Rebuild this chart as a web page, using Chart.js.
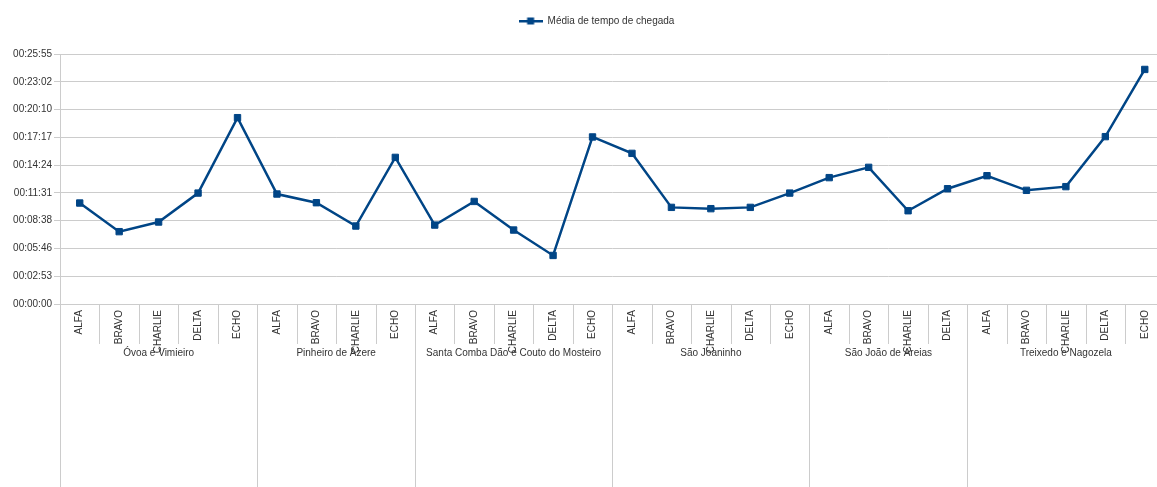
<!DOCTYPE html>
<html lang="pt">
<head>
  <meta charset="UTF-8">
  <title>Média de tempo de chegada</title>
  <script src="https://cdn.jsdelivr.net/npm/chart.js"></script>
  <style>
    html, body { margin: 0; padding: 0; background: #fff; overflow: hidden; }
    #wrap { width: 1170px; height: 487px; }
  </style>
</head>
<body>
<div id="wrap"><canvas id="chart" width="1170" height="487"></canvas></div>

<script>
  // data (seconds)
  const groupNames = ['Óvoa e Vimieiro', 'Pinheiro de Ázere', 'Santa Comba Dão e Couto do Mosteiro',
                      'São Joaninho', 'São João de Areias', 'Treixedo e Nagozela'];
  const groupSizes = [5, 4, 5, 5, 4, 5];
  const teams = ['ALFA', 'BRAVO', 'CHARLIE', 'DELTA', 'ECHO',
                 'ALFA', 'BRAVO', 'CHARLIE', 'ECHO',
                 'ALFA', 'BRAVO', 'CHARLIE', 'DELTA', 'ECHO',
                 'ALFA', 'BRAVO', 'CHARLIE', 'DELTA', 'ECHO',
                 'ALFA', 'BRAVO', 'CHARLIE', 'DELTA',
                 'ALFA', 'BRAVO', 'CHARLIE', 'DELTA', 'ECHO'];
  const arrivalSeconds = [628, 450, 510, 690, 1159,
                          684, 630, 485, 912,
                          491, 638, 460, 302, 1039,
                          937, 601, 593, 601, 690,
                          786, 850, 580, 717,
                          798, 707, 730, 1041, 1459];
  const yTickLabels = ['00:00:00', '00:02:53', '00:05:46', '00:08:38', '00:11:31',
                       '00:14:24', '00:17:17', '00:20:10', '00:23:02', '00:25:55'];

  const toSec = s => s.split(':').reduce((a, b) => a * 60 + parseInt(b, 10), 0);
  const yTickValues = yTickLabels.map(toSec);

  const lineColor = '#004586';
  const gridColor = '#cccccc';
  const textColor = '#333';
  const fontFamily = '"Liberation Sans", Arial, sans-serif';

  // legend symbol: line with a square in the middle
  const legendIcon = document.createElement('canvas');
  legendIcon.width = 24; legendIcon.height = 8;
  (function () {
    const c = legendIcon.getContext('2d');
    c.fillStyle = lineColor;
    c.fillRect(0, 3, 24, 2.5);
    c.fillRect(8.5, 0.5, 7, 7);
  })();

  // separators and group names under the x axis
  const groupAxis = {
    id: 'groupAxis',
    afterDraw(chart) {
      const ctx = chart.ctx, x = chart.scales.x, area = chart.chartArea;
      const w = x.getPixelForValue(1) - x.getPixelForValue(0);
      const left = x.getPixelForValue(0) - w / 2;
      const bottom = chart.height;
      const boundaries = [0];
      groupSizes.reduce((acc, n) => { boundaries.push(acc + n); return acc + n; }, 0);

      ctx.save();
      ctx.strokeStyle = gridColor;
      ctx.lineWidth = 1;
      for (let i = 0; i <= teams.length; i++) {
        const px = Math.round(left + i * w) + 0.5;
        const full = boundaries.includes(i);
        ctx.beginPath();
        ctx.moveTo(px, area.bottom);
        ctx.lineTo(px, full ? bottom : area.bottom + 40);
        ctx.stroke();
      }
      ctx.fillStyle = textColor;
      ctx.font = '10px ' + fontFamily;
      ctx.textAlign = 'center';
      ctx.textBaseline = 'middle';
      groupNames.forEach((name, g) => {
        const cx = left + (boundaries[g] + boundaries[g + 1]) / 2 * w;
        ctx.fillText(name, cx, area.bottom + 49);
      });
      ctx.restore();
    }
  };

  // fixed room for the legend, and nudge it a bit right
  const legendSpace = {
    id: 'legendSpace',
    beforeInit(chart) {
      const fit = chart.legend.fit;
      chart.legend.fit = function () { fit.call(this); this.height = 48; };
    },
    afterLayout(chart) {
      chart.legend.left += 12;
      chart.legend.right += 12;
    }
  };

  new Chart(document.getElementById('chart'), {
    type: 'line',
    data: {
      labels: teams,
      datasets: [{
        label: 'Média de tempo de chegada',
        data: arrivalSeconds,
        borderColor: lineColor,
        backgroundColor: lineColor,
        borderWidth: 2.5,
        tension: 0,
        fill: false,
        pointStyle: 'rect',
        pointRadius: 4.5,
        pointBorderWidth: 1,
        pointBorderColor: lineColor,
        pointBackgroundColor: lineColor
      }]
    },
    options: {
      responsive: false,
      animation: false,
      layout: { padding: { left: 0, right: 1, top: 6, bottom: 0 } },
      plugins: {
        tooltip: { enabled: false },
        legend: {
          position: 'top',
          labels: {
            color: textColor,
            font: { family: fontFamily, size: 10 },
            usePointStyle: true,
            pointStyleWidth: 24,
            padding: 10,
            generateLabels: chart => chart.data.datasets.map((ds, i) => ({
              text: ds.label, pointStyle: legendIcon, fontColor: textColor,
              strokeStyle: lineColor, fillStyle: lineColor, lineWidth: 0, datasetIndex: i
            }))
          }
        }
      },
      scales: {
        x: {
          offset: true,
          grid: { display: false },
          border: { display: false },
          ticks: {
            color: textColor,
            font: { family: fontFamily, size: 10 },
            minRotation: 90, maxRotation: 90,
            autoSkip: false,
            padding: -2
          },
          afterFit(scale) { scale.height = 183; }
        },
        y: {
          min: 0,
          max: yTickValues[yTickValues.length - 1],
          afterBuildTicks(scale) { scale.ticks = yTickValues.map(v => ({ value: v })); },
          grid: { color: gridColor, tickLength: 6, tickColor: gridColor },
          border: { color: gridColor },
          ticks: {
            color: textColor,
            font: { family: fontFamily, size: 10 },
            padding: 2,
            callback: (v, i) => yTickLabels[i]
          },
          afterFit(scale) { scale.width = 60; }
        }
      }
    },
    plugins: [groupAxis, legendSpace]
  });
</script>
</body>
</html>
